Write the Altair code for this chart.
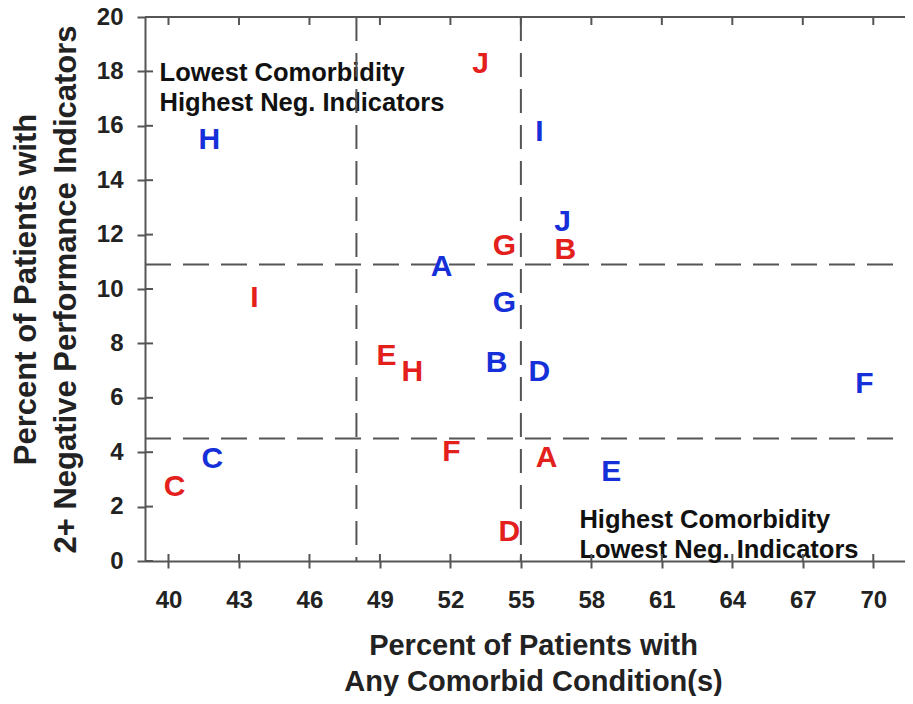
import altair as alt
import pandas as pd

# ---- data ----
red_labels = ["J", "G", "B", "I", "E", "H", "F", "A", "C", "D"]
red_x = [53.28, 54.30, 56.89, 43.66, 49.28, 50.38, 52.04, 56.09, 40.26, 54.51]
red_y = [18.27, 11.58, 11.43, 9.67, 7.54, 6.95, 4.00, 3.79, 2.72, 1.07]

blue_labels = ["H", "I", "J", "A", "G", "B", "D", "F", "C", "E"]
blue_x = [41.74, 55.79, 56.77, 51.62, 54.30, 53.96, 55.79, 69.62, 41.87, 58.85]
blue_y = [15.48, 15.77, 12.46, 10.81, 9.49, 7.28, 6.95, 6.51, 3.75, 3.27]

vlines = [48, 55]
hlines = [10.9, 4.5]

x_ticks = [40, 43, 46, 49, 52, 55, 58, 61, 64, 67, 70]
y_ticks = [0, 2, 4, 6, 8, 10, 12, 14, 16, 18, 20]

notes = ["Lowest Comorbidity\nHighest Neg. Indicators",
         "Highest Comorbidity\nLowest Neg. Indicators"]
note_x = [39.62, 57.49]
note_y = [17.94, 1.49]

x_title = ["Percent of Patients with", "Any Comorbid Condition(s)"]
y_title = ["Percent of Patients with", "2+ Negative Performance Indicators"]

# ---- styling ----
W, H = 760, 544
FONT = "Liberation Sans"
AXIS_COL = "#555555"
TXT_COL = "#222222"
RED = "#e3201b"
BLUE = "#1530d8"

pts = pd.DataFrame({
    "label": red_labels + blue_labels,
    "x": red_x + blue_x,
    "y": red_y + blue_y,
    "group": ["red"] * len(red_labels) + ["blue"] * len(blue_labels),
})
notes_df = pd.DataFrame({"text": notes, "x": note_x, "y": note_y})
vdf = pd.DataFrame({"v": vlines})
hdf = pd.DataFrame({"h": hlines})
xt = pd.DataFrame({"t": x_ticks})
yt = pd.DataFrame({"t": y_ticks})

xscale = alt.Scale(domain=[39, 71.35], nice=False, zero=False)
yscale = alt.Scale(domain=[0, 20], nice=False, zero=False)

xaxis = alt.Axis(
    values=x_ticks, title=x_title, grid=False,
    domainColor=AXIS_COL, domainWidth=2, tickColor=AXIS_COL, tickWidth=2, tickSize=7,
    labelFont=FONT, labelFontSize=24, labelFontWeight="bold", labelColor=TXT_COL,
    labelPadding=20, titleFont=FONT, titleFontSize=29, titleFontWeight="bold",
    titleColor=TXT_COL, titleLineHeight=36, titlePadding=19, titleX=388,
)
yaxis = alt.Axis(
    values=y_ticks, title=y_title, grid=False,
    domainColor=AXIS_COL, domainWidth=2, tickColor=AXIS_COL, tickWidth=2, tickSize=8,
    labelFont=FONT, labelFontSize=24, labelFontWeight="bold", labelColor=TXT_COL,
    labelPadding=14, titleFont=FONT, titleFontSize=31, titleFontWeight="bold",
    titleColor=TXT_COL, titleLineHeight=40, titlePadding=14,
)

base_axes = alt.Chart(pts).mark_point(opacity=0).encode(
    x=alt.X("x:Q", scale=xscale, axis=xaxis),
    y=alt.Y("y:Q", scale=yscale, axis=yaxis),
)

note_layer = alt.Chart(notes_df).mark_text(
    align="left", baseline="middle", font=FONT, fontSize=25.5, fontWeight="bold",
    color="#111111", lineBreak="\n", lineHeight=30,
).encode(
    x=alt.X("x:Q", scale=xscale), y=alt.Y("y:Q", scale=yscale), text="text:N"
)

vrule = alt.Chart(vdf).mark_rule(color=AXIS_COL, strokeWidth=2, strokeDash=[24, 12]).encode(
    x=alt.X("v:Q", scale=xscale), y=alt.value(0), y2=alt.value(H)
)
hrule = alt.Chart(hdf).mark_rule(color=AXIS_COL, strokeWidth=2, strokeDash=[26, 12]).encode(
    y=alt.Y("h:Q", scale=yscale), x=alt.value(0), x2=alt.value(W)
)

top_border = alt.Chart(pd.DataFrame({"a": [0]})).mark_rule(color=AXIS_COL, strokeWidth=2).encode(
    x=alt.value(0), x2=alt.value(W), y=alt.value(0)
)
top_ticks = alt.Chart(xt).mark_rule(color=AXIS_COL, strokeWidth=2).encode(
    x=alt.X("t:Q", scale=xscale), y=alt.value(0), y2=alt.value(8)
)
bot_ticks = alt.Chart(xt).mark_rule(color=AXIS_COL, strokeWidth=2).encode(
    x=alt.X("t:Q", scale=xscale), y=alt.value(H - 7), y2=alt.value(H)
)
left_ticks = alt.Chart(yt).mark_rule(color=AXIS_COL, strokeWidth=2).encode(
    y=alt.Y("t:Q", scale=yscale), x=alt.value(0), x2=alt.value(8)
)

letters = alt.Chart(pts).mark_text(
    font=FONT, fontSize=30, fontWeight="bold", baseline="middle", align="center"
).encode(
    x=alt.X("x:Q", scale=xscale),
    y=alt.Y("y:Q", scale=yscale),
    text="label:N",
    color=alt.Color("group:N", scale=alt.Scale(domain=["red", "blue"], range=[RED, BLUE]), legend=None),
)

chart = alt.layer(
    base_axes, note_layer, vrule, hrule, top_border, top_ticks, bot_ticks, left_ticks, letters
).properties(
    width=W, height=H,
    autosize=alt.AutoSizeParams(type="none"),
    padding={"left": 137, "top": 9, "right": 0, "bottom": 135},
    background="white",
).configure_view(stroke=None)

chart.save("out.html", embed_options={"renderer": "svg", "actions": False})
